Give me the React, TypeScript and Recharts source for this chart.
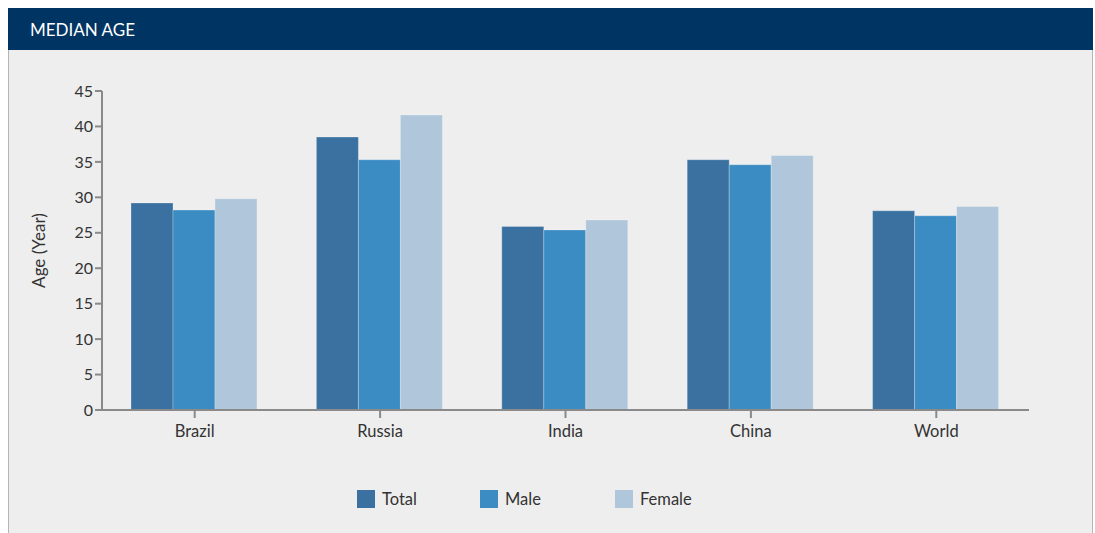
import { BarChart, Bar, XAxis, YAxis } from 'recharts';

const countries = ['Brazil', 'Russia', 'India', 'China', 'World'];
const totalAge = [29.2, 38.5, 25.9, 35.3, 28.1];
const maleAge = [28.2, 35.3, 25.4, 34.6, 27.4];
const femaleAge = [29.8, 41.6, 26.8, 35.9, 28.7];
const yTicks = [0, 5, 10, 15, 20, 25, 30, 35, 40, 45];

const SERIES = [
  { key: 'total', name: 'Total', color: '#3A71A0' },
  { key: 'male', name: 'Male', color: '#3C8CC4' },
  { key: 'female', name: 'Female', color: '#B0C6DB' },
];

const data = countries.map((c, i) => ({
  country: c,
  total: totalAge[i],
  male: maleAge[i],
  female: femaleAge[i],
}));

const FONT = 'Lato, "Open Sans", sans-serif';
const AXIS = '#8a8a8a';

function ChartLegend() {
  const slots = [123, 135, 90];
  return (
    <div style={{ position: 'absolute', top: 439, left: 348, display: 'flex' }}>
      {SERIES.map((s, i) => (
        <div key={s.key} style={{ width: slots[i], display: 'flex', alignItems: 'center' }}>
          <span style={{ width: 18, height: 18, background: s.color, display: 'inline-block', marginRight: 7 }} />
          <span style={{ fontSize: 16.5, color: '#333', fontFamily: FONT }}>{s.name}</span>
        </div>
      ))}
    </div>
  );
}

export default function App() {
  return (
    <div style={{ position: 'fixed', left: 8, top: 8, width: 1085, fontFamily: FONT }}>
      <div style={{ height: 42, background: '#003463', color: '#fff', display: 'flex', alignItems: 'center', paddingLeft: 22, fontSize: 17, boxSizing: 'border-box' }}>
        MEDIAN AGE
      </div>
      <div style={{ position: 'relative', height: 483, background: '#EEEEEE', borderLeft: '1px solid #b5b5b5', borderRight: '1px solid #b5b5b5', boxSizing: 'border-box' }}>
        <BarChart
          width={1083}
          height={483}
          data={data}
          margin={{ top: 41, right: 63, left: 33, bottom: 93 }}
          barGap={0}
          barCategoryGap={29}
        >
          <XAxis
            dataKey="country"
            stroke={AXIS}
            strokeWidth={2}
            tickSize={8}
            tick={{ fontSize: 16.5, fill: '#333', fontFamily: FONT, dy: 5 }}
            interval={0}
            tickLine={{ stroke: AXIS, strokeWidth: 2 }}
          />
          <YAxis
            domain={[0, 45]}
            ticks={yTicks}
            interval={0}
            stroke={AXIS}
            strokeWidth={2}
            width={60}
            tickSize={7}
            tick={{ fontSize: 16, fill: '#333', fontFamily: FONT }}
            tickLine={{ stroke: AXIS, strokeWidth: 2 }}
            label={{ value: 'Age (Year)', angle: -90, position: 'insideLeft', offset: 0, dx: -3, style: { fontSize: 17, fill: '#333', fontFamily: FONT, textAnchor: 'middle' } }}
          />
          {SERIES.map(s => (
            <Bar
              key={s.key}
              dataKey={s.key}
              name={s.name}
              fill={s.color}
              stroke="rgba(255,255,255,0.25)"
              strokeWidth={1}
              isAnimationActive={false}
            />
          ))}
        </BarChart>
        <ChartLegend />
      </div>
    </div>
  );
}
